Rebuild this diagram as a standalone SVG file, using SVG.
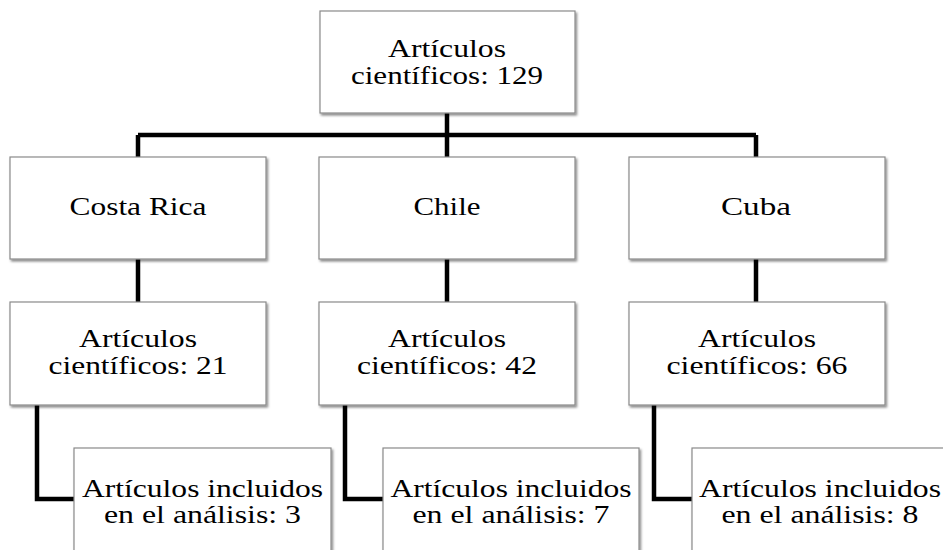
<svg xmlns="http://www.w3.org/2000/svg" width="943" height="550" viewBox="0 0 943 550">
<defs>
<filter id="sh" x="-5%" y="-5%" width="115%" height="120%">
<feDropShadow dx="1.5" dy="2" stdDeviation="1.3" flood-color="#000" flood-opacity="0.45"/>
</filter>
<style>
.box{fill:#fff;stroke:#8a8a8a;stroke-width:1.2;filter:url(#sh)}
.t{font-family:"Liberation Serif","Times New Roman",Times,"DejaVu Serif",serif;font-size:25px;fill:#000;text-anchor:middle}
.c{fill:none;stroke:#000;stroke-width:4.5;stroke-linejoin:miter}
</style>
</defs>
<rect width="943" height="550" fill="#fff"/>
<g id="connectors">
<path class="c" d="M447 113V135M138 135H756M138 135V157M447 135V157M756 135V157"/>
<path class="c" d="M138 259V302M447 259V302M756 259V302"/>
<path class="c" d="M37 405V499H74M345 405V499H383M654 405V499H692"/>
</g>
<g id="n-total">
<rect class="box" x="320" y="11" width="255" height="102"/>
<text class="t" x="447" y="57" textLength="118" lengthAdjust="spacingAndGlyphs">Artículos</text>
<text class="t" x="447" y="84" textLength="192" lengthAdjust="spacingAndGlyphs">científicos: 129</text>
</g>
<g id="n-costarica">
<rect class="box" x="10" y="157" width="256" height="102"/>
<text class="t" x="138" y="215" textLength="137" lengthAdjust="spacingAndGlyphs">Costa Rica</text>
</g>
<g id="n-chile">
<rect class="box" x="319" y="157" width="256" height="102"/>
<text class="t" x="447" y="215" textLength="67" lengthAdjust="spacingAndGlyphs">Chile</text>
</g>
<g id="n-cuba">
<rect class="box" x="629" y="157" width="256" height="102"/>
<text class="t" x="756" y="215" textLength="70" lengthAdjust="spacingAndGlyphs">Cuba</text>
</g>
<g id="n-cr-art">
<rect class="box" x="10" y="302" width="256" height="103"/>
<text class="t" x="138" y="347" textLength="118" lengthAdjust="spacingAndGlyphs">Artículos</text>
<text class="t" x="138" y="374" textLength="179" lengthAdjust="spacingAndGlyphs">científicos: 21</text>
</g>
<g id="n-ch-art">
<rect class="box" x="319" y="302" width="256" height="103"/>
<text class="t" x="447" y="347" textLength="118" lengthAdjust="spacingAndGlyphs">Artículos</text>
<text class="t" x="447" y="374" textLength="180" lengthAdjust="spacingAndGlyphs">científicos: 42</text>
</g>
<g id="n-cu-art">
<rect class="box" x="629" y="302" width="256" height="103"/>
<text class="t" x="757" y="347" textLength="118" lengthAdjust="spacingAndGlyphs">Artículos</text>
<text class="t" x="757" y="374" textLength="181" lengthAdjust="spacingAndGlyphs">científicos: 66</text>
</g>
<g id="n-cr-inc">
<rect class="box" x="74" y="448" width="257" height="110"/>
<text class="t" x="202.5" y="497" textLength="241" lengthAdjust="spacingAndGlyphs">Artículos incluidos</text>
<text class="t" x="202.5" y="523" textLength="197" lengthAdjust="spacingAndGlyphs">en el análisis: 3</text>
</g>
<g id="n-ch-inc">
<rect class="box" x="383" y="448" width="256" height="110"/>
<text class="t" x="511" y="497" textLength="241" lengthAdjust="spacingAndGlyphs">Artículos incluidos</text>
<text class="t" x="511" y="523" textLength="197" lengthAdjust="spacingAndGlyphs">en el análisis: 7</text>
</g>
<g id="n-cu-inc">
<rect class="box" x="692" y="448" width="256" height="110"/>
<text class="t" x="820" y="497" textLength="242" lengthAdjust="spacingAndGlyphs">Artículos incluidos</text>
<text class="t" x="820" y="523" textLength="197" lengthAdjust="spacingAndGlyphs">en el análisis: 8</text>
</g>
</svg>
